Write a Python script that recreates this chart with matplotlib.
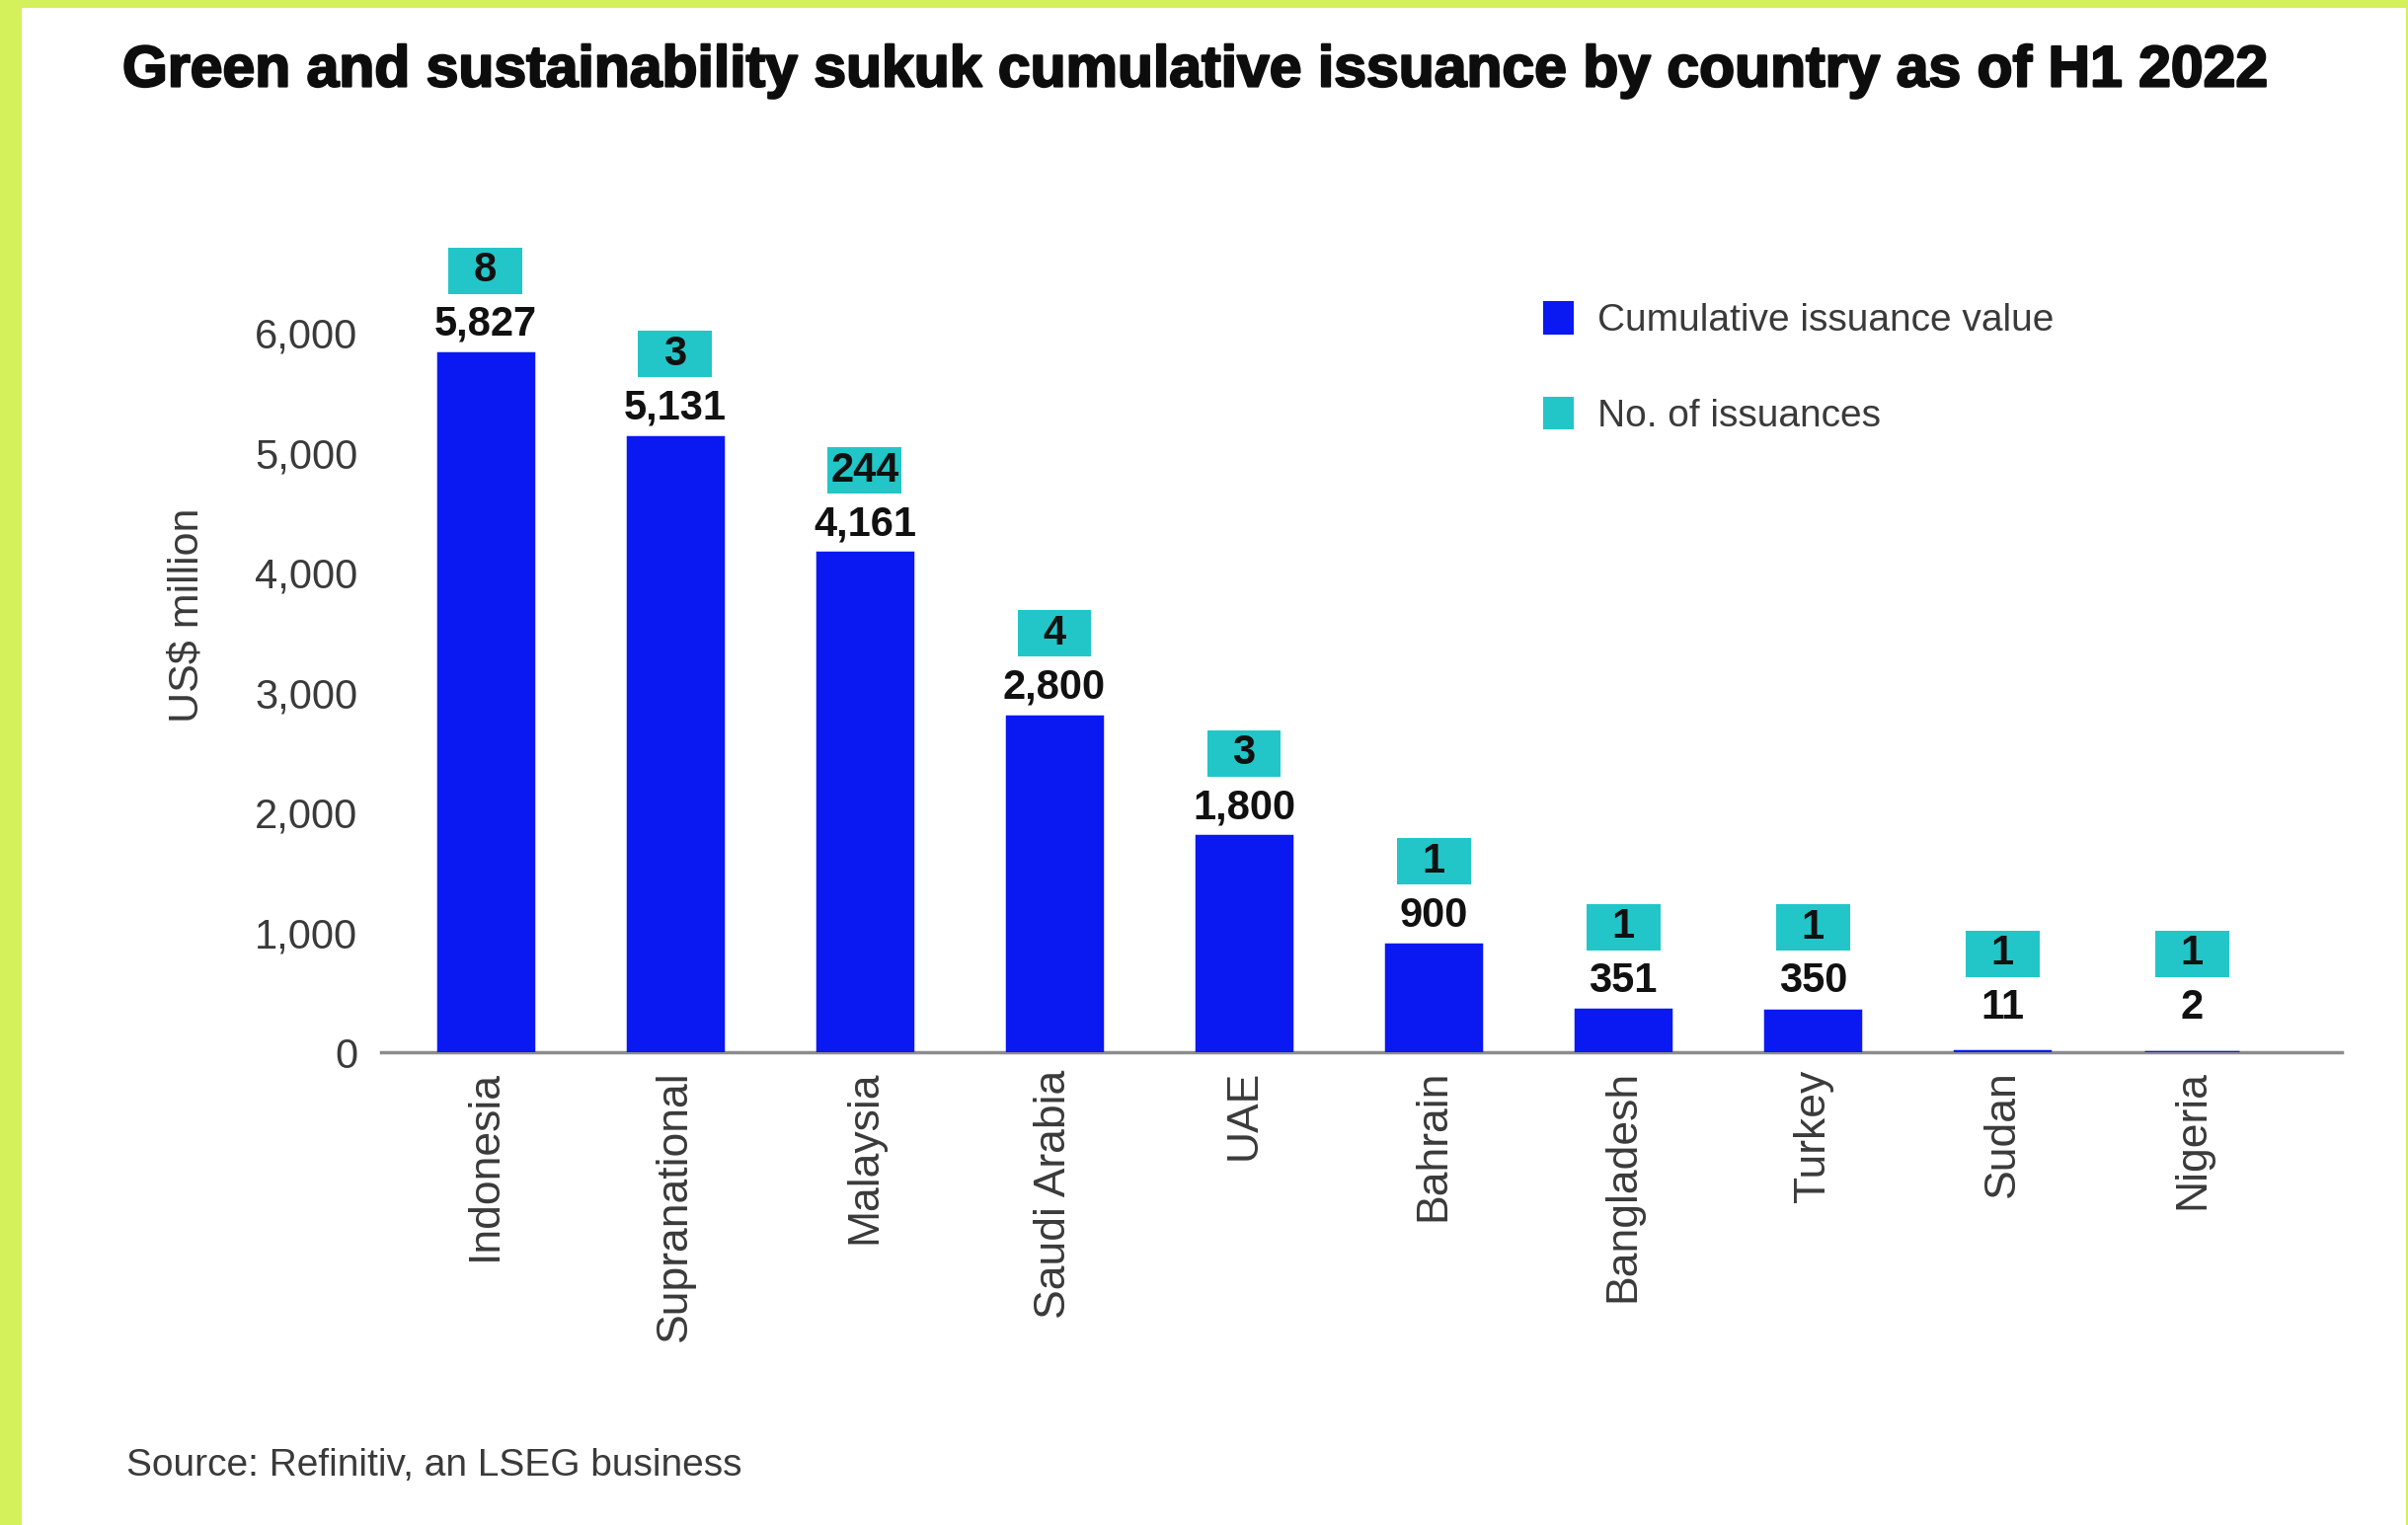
# -*- coding: utf-8 -*-
"""
Green and sustainability sukuk cumulative issuance by country (H1 2022)
"""

import numpy as np
import matplotlib
matplotlib.use("Agg")
import matplotlib.pyplot as plt
import matplotlib.patheffects as pe
from matplotlib.patches import Patch, Rectangle

plt.rcParams.update({
    "font.family": ["Liberation Sans", "DejaVu Sans"],
})

# ---- data ----
countries = ["Indonesia", "Supranational", "Malaysia", "Saudi Arabia", "UAE",
             "Bahrain", "Bangladesh", "Turkey", "Sudan", "Nigeria"]
issuance_value = [5827, 5131, 4161, 2800, 1800, 900, 351, 350, 11, 2]
issuance_count = [8, 3, 244, 4, 3, 1, 1, 1, 1, 1]
y_ticks = [0, 1000, 2000, 3000, 4000, 5000, 6000]

TITLE = "Green and sustainability sukuk cumulative issuance by country as of H1 2022"
SOURCE = "Source: Refinitiv, an LSEG business"

BLUE = "#0a18f2"
TEAL = "#22c6c8"
LIME = "#d4f05a"
TEXT_GREY = "#3a3a3a"

W_PX, H_PX, DPI = 2439, 1545, 100


def main() -> None:
    fig = plt.figure(figsize=(W_PX / DPI, H_PX / DPI), dpi=DPI)
    fig.patch.set_facecolor(LIME)
    # white card inside the lime frame
    fig.patches.append(Rectangle((22 / W_PX, 0), (2437 - 22) / W_PX, 1 - 8 / H_PX,
                                 transform=fig.transFigure, facecolor="white",
                                 edgecolor="none", zorder=-10))

    ax = fig.add_axes([0.1583, 0.310, 0.8143, 0.5505])
    ax.set_facecolor("none")
    ax.set_zorder(5)

    x = np.arange(len(countries))
    vals = np.array(issuance_value, dtype=float)

    ax.bar(x, vals, width=0.5, color=BLUE, edgecolor=BLUE, linewidth=2.5, zorder=4)

    # labels sit above bar top (tiny bars get a minimum base)
    base = np.maximum(vals, 130)
    box_h = 387
    box_off = 691
    ax.bar(x, [box_h] * len(x), bottom=base + box_off - box_h / 2, width=0.39,
           color=TEAL, zorder=2)
    for xi, b, v, n in zip(x, base, issuance_value, issuance_count):
        ax.text(xi, b + 240, f"{v:,}", ha="center", va="center", fontsize=30,
                fontweight="bold", color="#111111")
        ax.text(xi, b + box_off, f"{n}", ha="center", va="center", fontsize=30,
                fontweight="bold", color="#111111", zorder=3)

    ax.set_xlim(-0.55, 9.79)
    ax.set_ylim(0, 7000)
    ax.set_yticks(y_ticks)
    ax.set_yticklabels([f"{t:,}" for t in y_ticks])
    ax.set_xticks(x)
    ax.set_xticklabels(countries, rotation=90)
    ax.tick_params(axis="y", length=0, pad=17, labelsize=30, labelcolor=TEXT_GREY)
    ax.tick_params(axis="x", length=0, pad=13, labelsize=32, labelcolor=TEXT_GREY)

    for s in ["top", "right", "left"]:
        ax.spines[s].set_visible(False)
    ax.spines["bottom"].set_color("#8c8c8c")
    ax.spines["bottom"].set_linewidth(2.5)
    ax.spines["bottom"].set_zorder(3)

    ax.set_ylabel("US$ million", fontsize=31, color=TEXT_GREY)
    ax.yaxis.set_label_coords(-0.089, 0.52)

    handles = [Patch(facecolor=BLUE, edgecolor="none"),
               Patch(facecolor=TEAL, edgecolor="none")]
    fig.legend(handles, ["Cumulative issuance value", "No. of issuances"],
               loc="upper left", bbox_to_anchor=(0.633, 0.815), frameon=False,
               fontsize=28, handlelength=0.8, handleheight=0.95, handletextpad=0.6,
               labelspacing=1.5, borderpad=0, labelcolor=TEXT_GREY)

    fig.text(124 / W_PX, 1 - 72 / H_PX, TITLE, ha="left", va="center",
             fontsize=42.4, fontweight="bold", color="#0d0d0d",
             path_effects=[pe.withStroke(linewidth=1.6, foreground="#0d0d0d")])
    fig.text(128 / W_PX, 1 - 1485 / H_PX, SOURCE, ha="left", va="center",
             fontsize=28, color=TEXT_GREY)

    fig.savefig("out.png", dpi=DPI, facecolor=fig.get_facecolor())
    plt.close(fig)


if __name__ == "__main__":
    main()
